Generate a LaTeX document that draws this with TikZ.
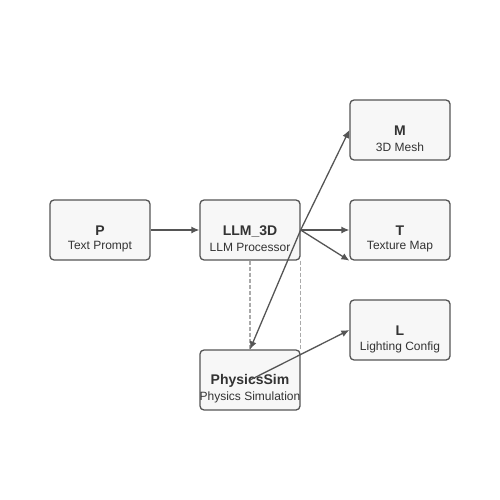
\documentclass[tikz,border=0pt]{standalone}
\usepackage{fontspec}
\setmainfont{Liberation Sans}
\usepackage{xcolor}
\usepackage{tikz}
\usetikzlibrary{arrows.meta}
\usetikzlibrary{positioning}
\definecolor{boxline}{HTML}{555555}
\definecolor{boxfill}{HTML}{F7F7F7}
\definecolor{textcol}{HTML}{333333}
\definecolor{dashcol}{HTML}{AAAAAA}
\tikzset{block/.style={draw=boxline, fill=boxfill, line width=1.3pt, rounded corners=4pt, minimum width=100pt, minimum height=60pt}}
\tikzset{title/.style={text=textcol, font=\fontsize{14}{16}\selectfont\bfseries, inner sep=0pt}}
\tikzset{sub/.style={text=textcol, font=\fontsize{12}{14}\selectfont, inner sep=0pt}}
\tikzset{flow/.style={draw=boxline, line width=1.3pt, -{Latex[length=8pt,width=7pt]}}}
\tikzset{guide/.style={draw=dashcol, line width=1.3pt, dash pattern=on 4pt off 2pt}}

\begin{document}
\begin{tikzpicture}[x=1pt,y=-1pt]
\useasboundingbox (0,0) rectangle (500,500);
\node[block] (p) at (100,230) {};
\node[block] (llm) at (250,230) {};
\node[block] (m) at (400,130) {};
\node[block] (t) at (400,230) {};
\node[block] (l) at (400,330) {};
\node[block] (phys) at (250,380) {};
\node[title] (pt) at ([yshift=-1pt]p.center) {P};
\node[sub] (ps) at ([yshift=-17pt]p.center) {Text Prompt};
\node[title] (llmt) at ([yshift=-1pt]llm.center) {LLM\_3D};
\node[sub] (llms) at ([yshift=-17pt]llm.center) {LLM Processor};
\node[title] (mt) at ([yshift=-1pt]m.center) {M};
\node[sub] (ms) at ([yshift=-17pt]m.center) {3D Mesh};
\node[title] (tt) at ([yshift=-1pt]t.center) {T};
\node[sub] (ts) at ([yshift=-17pt]t.center) {Texture Map};
\node[title] (lt) at ([yshift=-1pt]l.center) {L};
\node[sub] (ls) at ([yshift=-17pt]l.center) {Lighting Config};
\node[title] (physt) at ([yshift=-1pt]phys.center) {PhysicsSim};
\node[sub] (physs) at ([yshift=-17pt]phys.center) {Physics Simulation};
% guides
\draw[guide] (llm.south) -- (phys.north);
\draw[guide] (llm.south east) -- (phys.north east);
% flows
\draw[flow] (p.east) -- (llm.west);
\draw[flow] (llm.east) -- (m.west);
\draw[flow] (llm.east) -- (t.west);
\draw[flow] (llm.east) -- (t.south west);
\draw[flow] (llm.east) -- (phys.north);
\draw[flow] (phys.center) -- (l.west);
\end{tikzpicture}
\end{document}
